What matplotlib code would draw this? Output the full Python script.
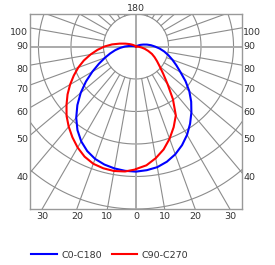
import numpy as np
import matplotlib.pyplot as plt

# gamma angle from nadir (deg), same for every half-plane
gamma = [0, 5, 10, 15, 20, 25, 30, 35, 40, 45, 50, 55, 60, 65, 70, 75, 80, 85, 90,
         95, 100, 105, 110, 115, 120, 125, 130, 135, 140, 145, 150, 155, 160, 165,
         170, 175, 180]

# luminous intensity (grid circles every 100)
c0 = [385, 382, 377, 367, 353, 335, 314, 290, 265, 240, 214, 186, 158, 137, 119,
      103, 88, 73, 58, 46, 34, 23, 15, 8, 3] + [0] * 12
c180 = [385, 384, 381, 376, 368, 355, 337, 314, 286, 255, 222, 188, 155, 126, 102,
        82, 65, 49, 34, 20, 9, 3] + [0] * 15
c90 = [377, 367, 349, 328, 302, 274, 245, 198, 151, 118, 95, 79, 66, 54, 40, 28,
       17, 8, 2] + [0] * 18
c270 = [378, 386, 389, 388, 384, 374, 359, 341, 322, 302, 279, 257, 234, 211, 189,
        166, 142, 119, 97, 74, 51, 34, 22, 14, 8, 4, 1] + [0] * 10

side_labels = [100, 90, 80, 70, 60, 50, 40]
bottom_labels = [30, 20, 10, 0, 10, 20, 30]
bottom_angles = [-30, -20, -10, 0, 10, 20, 30]
ring_values = [100, 200, 300, 400, 500]

XMAX = 326
YMIN, YMAX = -500, 100
GRID = '#8c8c8c'
TXT = '#333333'
FS = 6.8


def half_curve(left, right):
    g = np.radians(np.array(gamma, dtype=float))
    l = np.array(left, dtype=float)
    r = np.array(right, dtype=float)
    x = np.concatenate([(-l * np.sin(g))[::-1], r * np.sin(g)])
    y = np.concatenate([(-l * np.cos(g))[::-1], -r * np.cos(g)])
    return x, y


def main():
    fig = plt.figure(figsize=(2.75, 2.65), dpi=100)
    ax = fig.add_axes([30 / 275, 1 - 209 / 265, 212 / 275, 195 / 265])
    ax.set_xlim(-XMAX, XMAX)
    ax.set_ylim(YMIN, YMAX)
    ax.set_xticks([])
    ax.set_yticks([])
    for s in ax.spines.values():
        s.set_color('#999999')
        s.set_linewidth(1.0)

    # grid: rings and radial lines every 10 deg, starting at the inner ring
    t = np.linspace(0, 2 * np.pi, 400)
    for rv in ring_values:
        ax.plot(rv * np.sin(t), rv * np.cos(t), color=GRID, lw=0.8, zorder=1)
    for a in range(10, 180, 10):
        if a == 90:
            continue
        ar = np.radians(a)
        for sgn in (-1, 1):
            ax.plot([sgn * 100 * np.sin(ar), sgn * 1000 * np.sin(ar)],
                    [-100 * np.cos(ar), -1000 * np.cos(ar)],
                    color=GRID, lw=0.8, zorder=1)
    ax.axhline(0, color='#aaaaaa', lw=1.4, zorder=1)
    ax.axvline(0, color='#aaaaaa', lw=1.4, zorder=1)

    x, y = half_curve(c180, c0)
    ax.plot(x, y, color='#0000ff', lw=1.5, zorder=3, label='C0-C180')
    x, y = half_curve(c270, c90)
    ax.plot(x, y, color='#ff0000', lw=1.5, zorder=3, label='C90-C270')

    # angle labels where the radial lines meet the frame
    for lab in side_labels:
        ar = np.radians(lab)
        yy = -XMAX * np.cos(ar) / np.sin(ar)
        dy = 0 if lab == 90 else -3.2
        ax.annotate(str(lab), (-XMAX, yy), xytext=(-1.2, dy), textcoords='offset points',
                    ha='right', va='center', fontsize=FS, color=TXT, annotation_clip=False)
        ax.annotate(str(lab), (XMAX, yy), xytext=(1.0, dy), textcoords='offset points',
                    ha='left', va='center', fontsize=FS, color=TXT, annotation_clip=False)
    for lab, a in zip(bottom_labels, bottom_angles):
        xx = -YMIN * np.tan(np.radians(a))
        ax.annotate(str(lab), (xx, YMIN), xytext=(0, -2.5), textcoords='offset points',
                    ha='center', va='top', fontsize=FS, color=TXT, annotation_clip=False)
    ax.annotate('180', (0, YMAX), xytext=(0, 1), textcoords='offset points',
                ha='center', va='bottom', fontsize=FS, color=TXT, annotation_clip=False)

    fig.legend(loc='center', bbox_to_anchor=(110 / 275, 1 - 255 / 265), ncol=2,
               frameon=False, fontsize=FS, handlelength=2.7, handletextpad=0.5,
               columnspacing=1.0, labelcolor=TXT)

    fig.savefig('out.png', dpi=100)


if __name__ == '__main__':
    main()
